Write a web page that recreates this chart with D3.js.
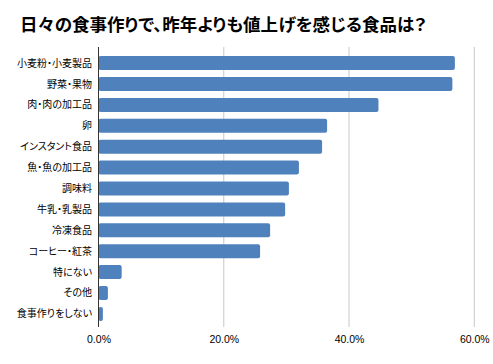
<!DOCTYPE html>
<html><head><meta charset="utf-8">
<script src="https://cdn.jsdelivr.net/npm/d3@7"></script>
<style>body{margin:0;background:#fff;}svg{display:block;} text.jp{font-feature-settings:"palt";}</style>
</head><body>
<svg id="c" width="493" height="364"></svg>
<script>
const categories = ["小麦粉・小麦製品","野菜・果物","肉・肉の加工品","卵","インスタント食品","魚・魚の加工品","調味料","牛乳・乳製品","冷凍食品","コーヒー・紅茶","特にない","その他","食事作りをしない"];
const values = [56.9,56.5,44.7,36.5,35.7,32.0,30.4,29.8,27.4,25.8,3.7,1.5,0.7];
const tickValues = [0,20,40,60];
const title = "日々の食事作りで、昨年よりも値上げを感じる食品は？";

(function(){
const svg = d3.select("#c");
const mL = 98.5, mR = 474.3, mT = 47, mB = 327;
const x = d3.scaleLinear().domain([0,60]).range([mL,mR]);
const y = d3.scaleBand().domain(categories).range([49,328]).paddingInner(0.33).paddingOuter(0.34);

svg.append("text").attr("class","jp").attr("x",20).attr("y",31).text(title)
  .attr("font-family","'Noto Sans CJK JP', sans-serif").attr("font-weight","bold").attr("font-size",17.5).attr("fill","#000");

svg.append("g").selectAll("line").data(tickValues.slice(1)).join("line")
  .attr("x1",d=>x(d)).attr("x2",d=>x(d)).attr("y1",mT).attr("y2",mB)
  .attr("stroke","#c8c8c8").attr("stroke-width",1);

svg.append("g").selectAll("rect").data(values).join("rect")
  .attr("x",x(0)).attr("y",(d,i)=>y(categories[i]))
  .attr("width",d=>x(d)-x(0)).attr("height",y.bandwidth())
  .attr("rx",2).attr("fill","#4F81BD");

svg.append("line").attr("x1",x(0)).attr("x2",x(0)).attr("y1",mT).attr("y2",mB).attr("stroke","#333").attr("stroke-width",1);

svg.append("g").selectAll("text").data(categories).join("text").attr("class","jp")
  .attr("x",92).attr("y",d=>y(d)+y.bandwidth()/2).attr("dy","0.35em")
  .attr("text-anchor","end").attr("font-family","'Noto Sans CJK JP', sans-serif").attr("font-size",10).attr("fill","#000")
  .text(d=>d);

const xa = d3.axisBottom(x).tickValues(tickValues).tickFormat(d=>d.toFixed(1)+"%").tickSize(0).tickPadding(0);
const g = svg.append("g").attr("transform",`translate(0,${mB})`).call(xa);
g.select(".domain").remove();
g.selectAll("text").attr("y",12).attr("dy","0.35em").attr("font-family","'Liberation Sans', Arial, sans-serif").attr("font-size",10.5).attr("fill","#000");
})();
</script>
</body></html>
